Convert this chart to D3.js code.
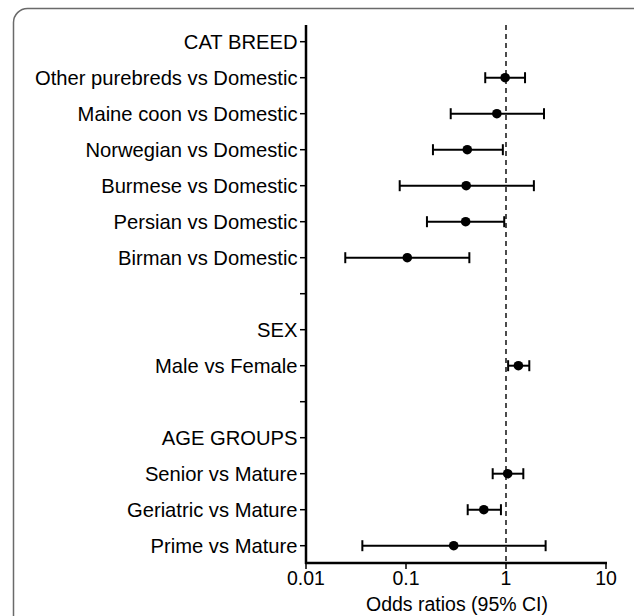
<!DOCTYPE html>
<html><head><meta charset="utf-8">
<script src="https://cdn.jsdelivr.net/npm/d3@7"></script>
<style>body{margin:0;background:#fff}svg{display:block}</style>
</head><body><svg id="c" width="634" height="616"></svg>
<script>
const labels = ["CAT BREED","Other purebreds vs Domestic","Maine coon vs Domestic","Norwegian vs Domestic","Burmese vs Domestic","Persian vs Domestic","Birman vs Domestic","","SEX","Male vs Female","","AGE GROUPS","Senior vs Mature","Geriatric vs Mature","Prime vs Mature"];
const oddsRatio = [null,0.98,0.81,0.41,0.40,0.395,0.103,null,null,1.33,null,null,1.04,0.60,0.30];
const ciLow =     [null,0.62,0.28,0.186,0.0865,0.162,0.0247,null,null,1.05,null,null,0.736,0.414,0.0366];
const ciHigh =    [null,1.55,2.4,0.93,1.9,0.96,0.43,null,null,1.71,null,null,1.49,0.89,2.49];
const xTicks = [0.01,0.1,1,10];
const xTickLabels = ["0.01","0.1","1","10"];

const svg = d3.select("#c");
const font = "'Liberation Sans', Arial, sans-serif";
// border
svg.append("rect").attr("x",13.5).attr("y",8.5).attr("width",640).attr("height",640)
  .attr("rx",14).attr("fill","none").attr("stroke","#6a6a6a").attr("stroke-width",1.5);

const x = d3.scaleLog().domain([0.01,10]).range([306,606]);
const y = d3.scalePoint().domain(d3.range(labels.length)).range([41.7,545.7]);
const yTop = 25, yBot = 563;

// dashed reference line
svg.append("line").attr("x1",x(1)).attr("x2",x(1)).attr("y1",yTop).attr("y2",yBot)
  .attr("stroke","#000").attr("stroke-width",1.4).attr("stroke-dasharray","5,4");

// y axis
const yAxis = svg.append("g");
yAxis.append("line").attr("x1",306).attr("x2",306).attr("y1",yTop).attr("y2",yBot+1)
  .attr("stroke","#000").attr("stroke-width",2.5);
labels.forEach((l,i)=>{
  yAxis.append("line").attr("x1",300).attr("x2",306).attr("y1",y(i)).attr("y2",y(i))
    .attr("stroke","#000").attr("stroke-width",1.5);
  if(l) yAxis.append("text").attr("x",297.5).attr("y",y(i)).attr("dy","0.36em")
    .attr("text-anchor","end").attr("font-family",font).attr("font-size",20.2).attr("fill","#000").text(l);
});

// x axis
const xAxis = svg.append("g");
xAxis.append("line").attr("x1",305).attr("x2",607).attr("y1",yBot).attr("y2",yBot)
  .attr("stroke","#000").attr("stroke-width",2.5);
xTicks.forEach((t,i)=>{
  xAxis.append("line").attr("x1",x(t)).attr("x2",x(t)).attr("y1",yBot).attr("y2",yBot+6)
    .attr("stroke","#000").attr("stroke-width",1.5);
  xAxis.append("text").attr("x",x(t)).attr("y",585).attr("text-anchor","middle")
    .attr("font-family",font).attr("font-size",19.5).attr("fill","#000").text(xTickLabels[i]);
});
svg.append("text").attr("x",457).attr("y",611).attr("text-anchor","middle")
  .attr("font-family",font).attr("font-size",19.5).attr("fill","#000").text("Odds ratios (95% CI)");

// error bars and points
const g = svg.append("g");
labels.forEach((l,i)=>{
  if(oddsRatio[i]==null) return;
  const yy = y(i);
  g.append("line").attr("x1",x(ciLow[i])).attr("x2",x(ciHigh[i])).attr("y1",yy).attr("y2",yy)
    .attr("stroke","#000").attr("stroke-width",2);
  [ciLow[i],ciHigh[i]].forEach(v=>{
    g.append("line").attr("x1",x(v)).attr("x2",x(v)).attr("y1",yy-5.5).attr("y2",yy+5.5)
      .attr("stroke","#000").attr("stroke-width",2);
  });
  g.append("circle").attr("cx",x(oddsRatio[i])).attr("cy",yy).attr("r",4.8).attr("fill","#000");
});
</script></body></html>
